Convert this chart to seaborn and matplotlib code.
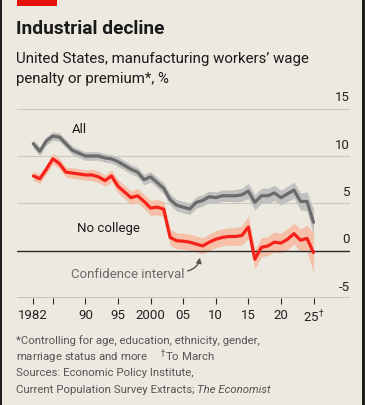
import matplotlib
matplotlib.use('Agg')
import matplotlib.pyplot as plt
import matplotlib.patches as mpatches
import seaborn as sns
import pandas as pd

years = list(range(1982, 2026))

# wage premium, %
all_workers = [11.3, 10.5, 11.6, 12.1, 12.0, 11.3, 10.6, 10.3, 10.0, 10.0,
               10.0, 9.8, 9.7, 9.4, 9.0, 8.6, 8.3, 7.5, 7.8, 7.2,
               6.6, 5.4, 4.8, 4.6, 4.4, 5.1, 5.3, 5.7, 5.6, 5.8,
               5.8, 5.8, 5.9, 6.3, 5.1, 5.8, 5.8, 6.1, 5.6, 6.0,
               6.4, 5.2, 5.2, 3.0]
no_college = [7.9, 7.6, 8.6, 9.7, 9.2, 8.3, 8.2, 8.1, 8.0, 8.0,
              7.8, 7.4, 7.9, 6.8, 6.2, 5.6, 5.8, 5.2, 4.5, 4.6,
              4.4, 1.4, 1.05, 1.0, 0.9, 0.7, 0.5, 0.9, 1.2, 1.4,
              1.5, 1.5, 1.6, 2.5, -0.9, 0.35, 0.5, 0.9, 0.8, 1.2,
              1.8, 1.1, 1.3, -0.2]

# half-width of the confidence interval
all_ci = [0.45, 0.45, 0.45, 0.45, 0.45, 0.45, 0.45, 0.45, 0.45, 0.45,
          0.45, 0.45, 0.45, 0.5, 0.5, 0.5, 0.5, 0.55, 0.55, 0.55,
          0.6, 0.6, 0.6, 0.6, 0.6, 0.6, 0.6, 0.6, 0.6, 0.6,
          0.6, 0.65, 0.7, 0.8, 0.8, 0.8, 0.8, 0.8, 0.8, 0.8,
          0.85, 0.9, 1.0, 1.4]
nc_ci = [0.5, 0.5, 0.5, 0.55, 0.55, 0.55, 0.55, 0.55, 0.55, 0.6,
         0.6, 0.6, 0.65, 0.7, 0.7, 0.7, 0.75, 0.75, 0.8, 0.8,
         0.8, 0.85, 0.85, 0.85, 0.85, 0.85, 0.85, 0.85, 0.9, 0.9,
         0.9, 0.95, 1.0, 1.2, 1.0, 1.0, 1.0, 1.05, 1.05, 1.1,
         1.1, 1.2, 1.4, 2.1]

yticks = [-5, 0, 5, 10, 15]
xticks = [1982, 1985, 1990, 1995, 2000, 2005, 2010, 2015, 2020, 2025]
xticklabels = ['1982', '', '90', '95', '2000', '05', '10', '15', '20', '25$^{\\dagger}$']

df = pd.DataFrame({'year': years, 'All': all_workers, 'No college': no_college})
long = df.melt(id_vars='year', var_name='group', value_name='pct')

bg = '#ECE9E0'
red = '#F5221B'
grey = '#6B6B6B'

sns.set_style('white')
plt.rcParams['font.family'] = ['Roboto', 'DejaVu Sans']

fig = plt.figure(figsize=(3.65, 4.06), dpi=100, facecolor=bg)
ax = fig.add_axes([17 / 365, 1 - 299 / 406, 333 / 365, 189.3 / 406])
ax.set_facecolor(bg)

lo_a = [v - c for v, c in zip(all_workers, all_ci)]
hi_a = [v + c for v, c in zip(all_workers, all_ci)]
lo_n = [v - c for v, c in zip(no_college, nc_ci)]
hi_n = [v + c for v, c in zip(no_college, nc_ci)]

# gridlines
for t in yticks:
    if t == 0:
        ax.axhline(0, color='#2b2b2b', lw=1.0, zorder=4)
    elif t == -5:
        ax.axhline(t, color='#2b2b2b', lw=1.0, zorder=1)
    else:
        ax.axhline(t, color='#CBC8BD', lw=0.8, zorder=1)
    ax.text(1, t + 0.55, str(t), transform=ax.get_yaxis_transform(),
            ha='right', va='bottom', fontsize=9.5, color='#222222')

ax.fill_between(years, lo_a, hi_a, color='#C0C0BE', lw=0, zorder=2)
ax.fill_between(years, lo_n, hi_n, color='#F5BFA8', lw=0, zorder=2)
sns.lineplot(data=long, x='year', y='pct', hue='group', palette={'All': grey, 'No college': red},
             linewidth=2.3, legend=False, ax=ax, zorder=5)

ax.set_xlim(1979.5, 2030.6)
ax.set_ylim(-5, 15)
ax.set_xlabel('')
ax.set_ylabel('')
ax.set_yticks([])
ax.set_xticks(xticks)
ax.set_xticklabels(xticklabels, fontsize=9.5, color='#222222')
ax.tick_params(axis='x', length=4, width=0.8, color='#2b2b2b', pad=3, direction='out', bottom=True)
for s in ax.spines.values():
    s.set_visible(False)

ax.text(1989, 12.9, 'All', fontsize=9.5, ha='center', va='center', color='#1a1a1a')
ax.text(1993.5, 2.4, 'No college', fontsize=9.5, ha='center', va='center', color='#1a1a1a')
ax.text(1987.8, -2.4, 'Confidence interval', fontsize=9.5, ha='left', va='center', color='#6a6a6a')
ax.annotate('', xy=(2007.6, -0.45), xytext=(2005.3, -2.2),
            arrowprops=dict(arrowstyle='-|>,head_length=0.3,head_width=0.15', color='#555555',
                            lw=1.0, connectionstyle='arc3,rad=0.4'))

# header
fig.patches.append(mpatches.Rectangle((17 / 365, 1 - 6.5 / 406), 40 / 365, 6.5 / 406,
                                      transform=fig.transFigure, color='#E3120B', lw=0))
fig.patches.append(mpatches.Rectangle((0, 0), 2 / 365, 1, transform=fig.transFigure,
                                      color='#1e1e1e', lw=0))
fig.patches.append(mpatches.Rectangle((362 / 365, 0), 3 / 365, 1, transform=fig.transFigure,
                                      color='#1e1e1e', lw=0))
fig.text(16 / 365, 1 - 29 / 406, 'Industrial decline', fontsize=13.8, fontweight='bold',
         va='center', ha='left', color='#1a1a1a')
fig.text(16 / 365, 1 - 59 / 406, 'United States, manufacturing workers\u2019 wage',
         fontsize=10.8, va='center', ha='left', color='#1a1a1a')
fig.text(16 / 365, 1 - 79 / 406, 'penalty or premium*, %',
         fontsize=10.8, va='center', ha='left', color='#1a1a1a')

foot = '#555555'
fig.text(16 / 365, 1 - 341 / 406, '*Controlling for age, education, ethnicity, gender,',
         fontsize=8.2, va='center', ha='left', color=foot)
fig.text(16 / 365, 1 - 357 / 406, 'marriage status and more     $^{\\dagger}$To March',
         fontsize=8.2, va='center', ha='left', color=foot)
fig.text(16 / 365, 1 - 373.5 / 406, 'Sources: Economic Policy Institute,',
         fontsize=8.2, va='center', ha='left', color=foot)
t = fig.text(16 / 365, 1 - 390 / 406, 'Current Population Survey Extracts; ',
             fontsize=8.2, va='center', ha='left', color=foot)
fig.canvas.draw()
bb = t.get_window_extent()
fig.text(bb.x1 / fig.bbox.width, 1 - 390 / 406, 'The Economist', fontsize=8.2, style='italic',
         va='center', ha='left', color=foot)

fig.savefig('out.png', dpi=100, facecolor=bg)
